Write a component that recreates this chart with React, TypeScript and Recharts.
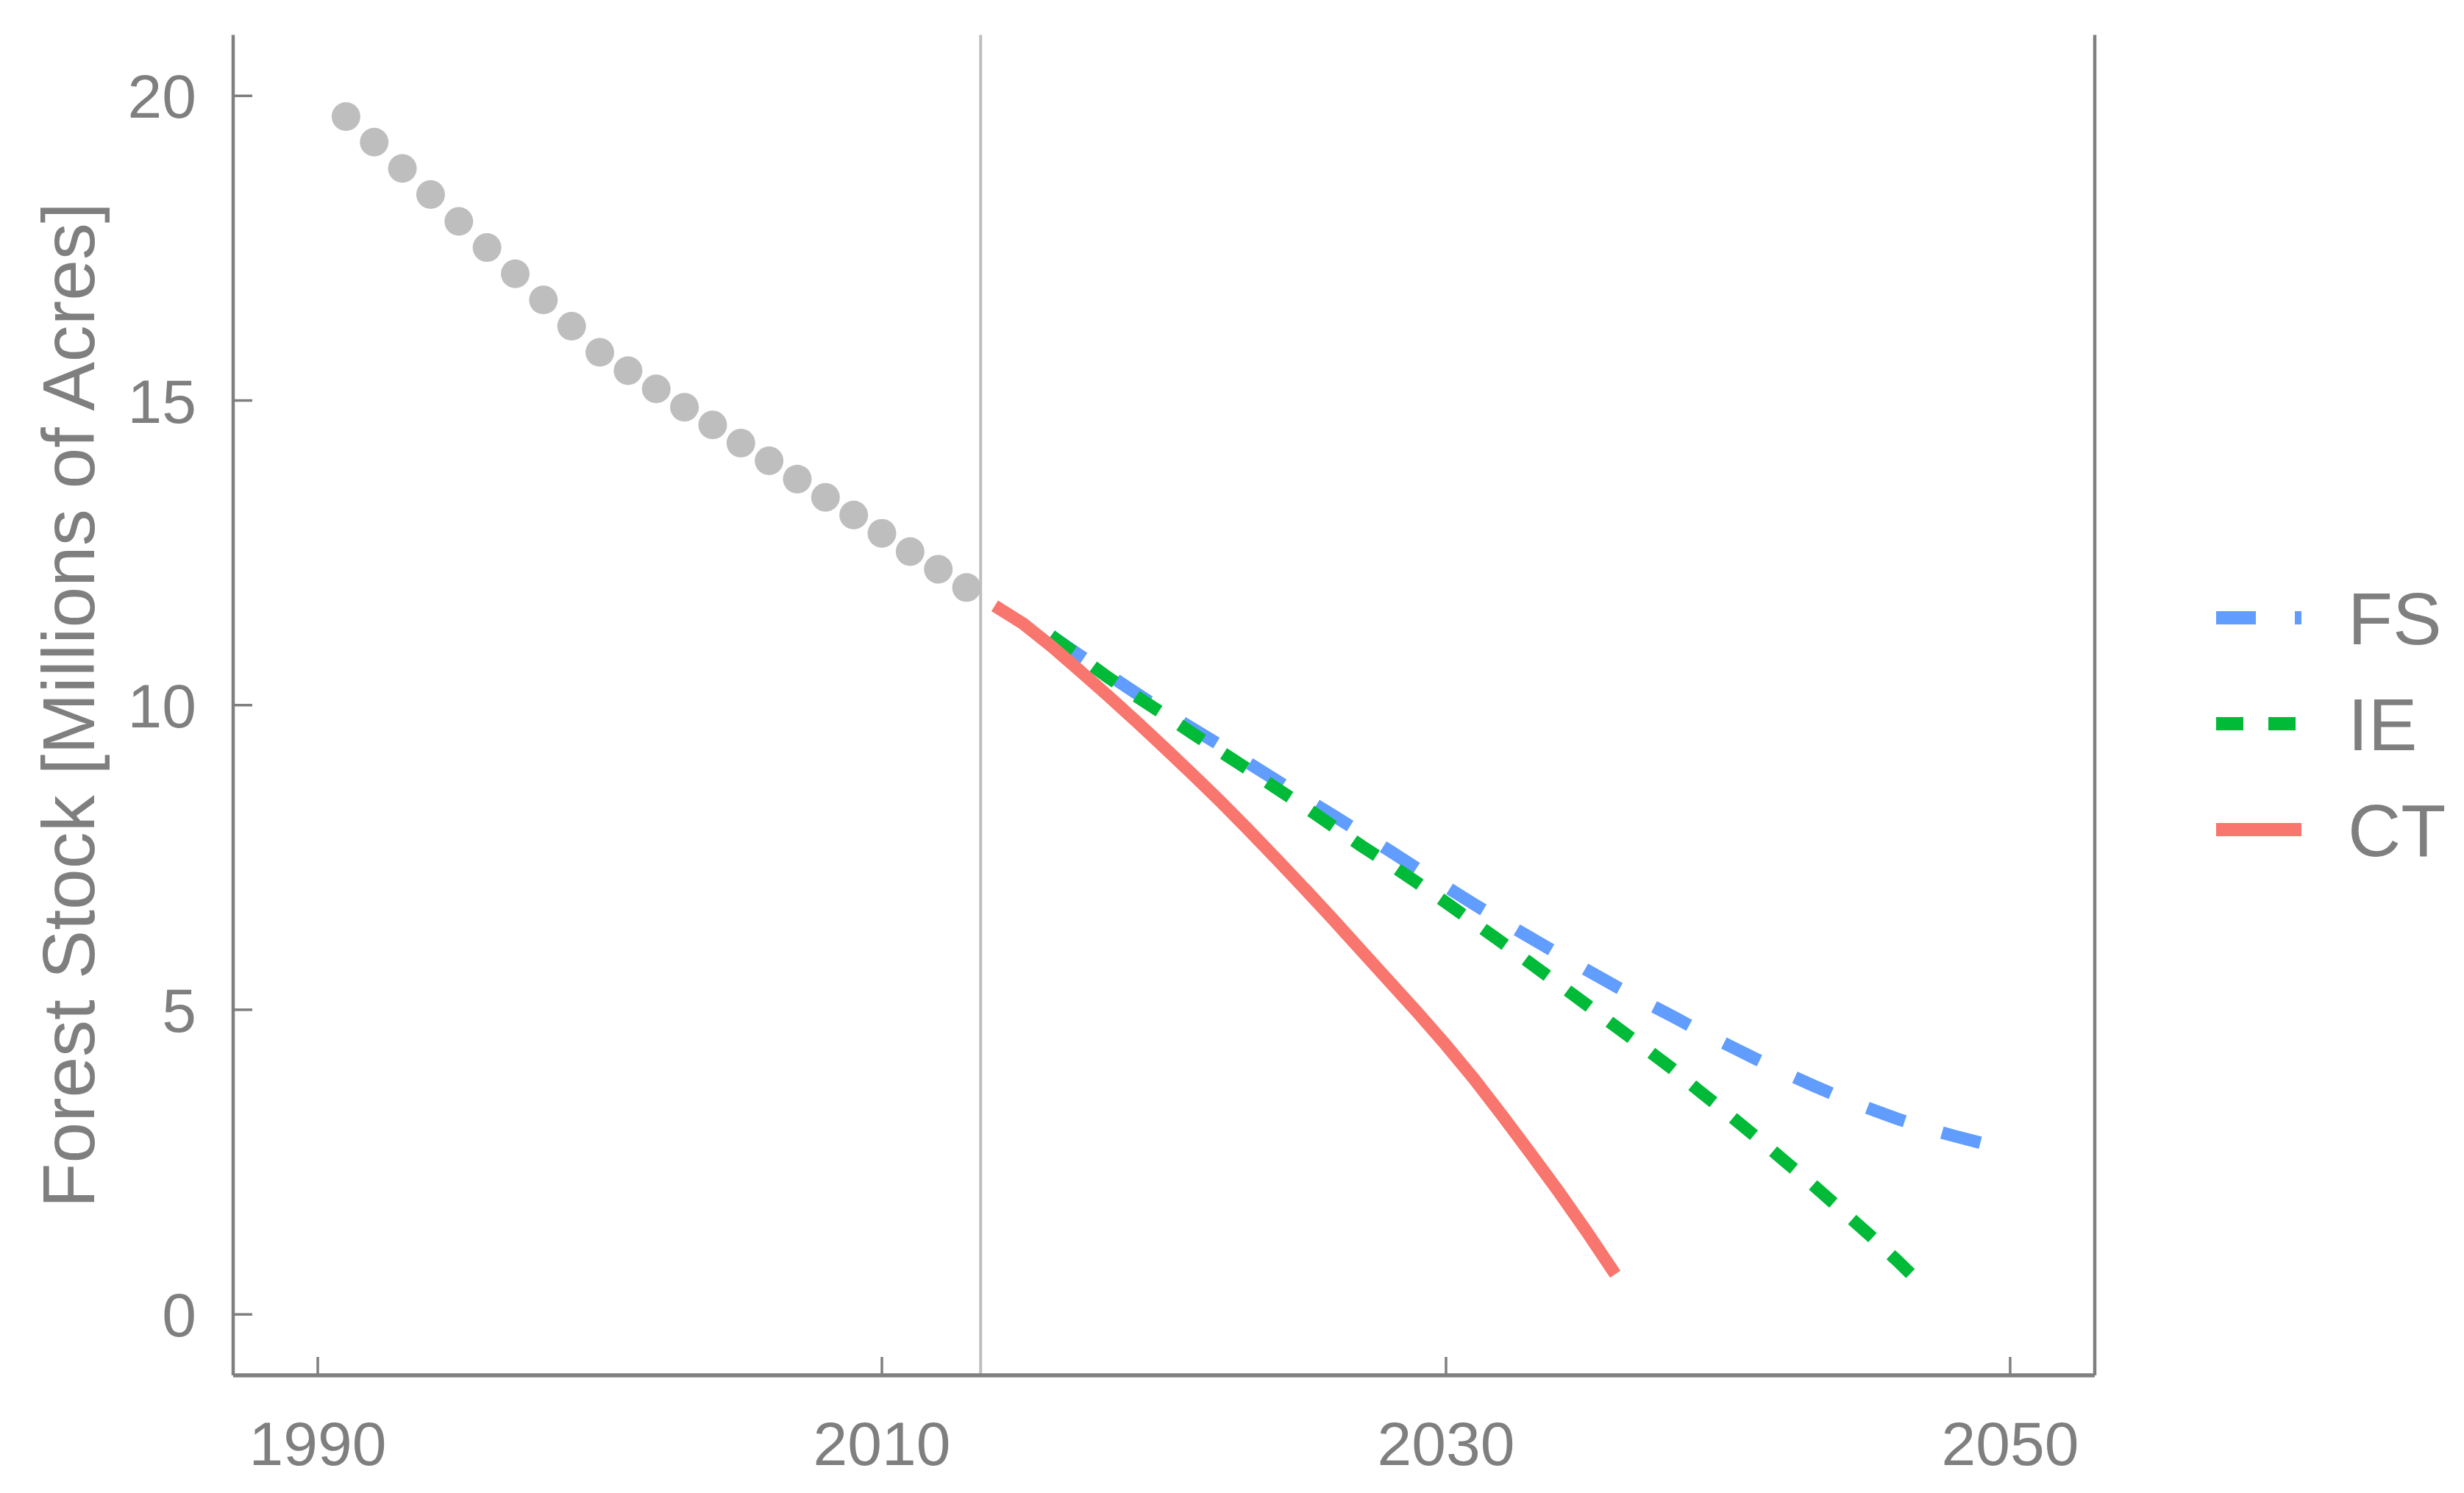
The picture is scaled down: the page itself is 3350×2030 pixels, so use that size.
import React from "react";
import {
  ComposedChart,
  Line,
  Scatter,
  XAxis,
  YAxis,
  ReferenceLine,
} from "recharts";

// Observed forest stock (grey dots), millions of acres
const HIST_YEARS = [
  1991, 1992, 1993, 1994, 1995, 1996, 1997, 1998, 1999, 2000, 2001, 2002,
  2003, 2004, 2005, 2006, 2007, 2008, 2009, 2010, 2011, 2012, 2013,
];
const HIST_VALUES = [
  19.66, 19.24, 18.81, 18.38, 17.94, 17.51, 17.08, 16.65, 16.22, 15.79, 15.49,
  15.19, 14.89, 14.6, 14.3, 14.01, 13.71, 13.41, 13.12, 12.82, 12.52, 12.23,
  11.93,
];

// Projections
const FS_YEARS = [
  2016, 2017, 2018, 2019, 2020, 2021, 2022, 2023, 2024, 2025, 2026, 2027, 2028,
  2029, 2030, 2031, 2032, 2033, 2034, 2035, 2036, 2037, 2038, 2039, 2040, 2041,
  2042, 2043, 2044, 2045, 2046, 2047, 2048, 2049, 2050,
];
const FS_VALUES = [
  11.14, 10.82, 10.51, 10.2, 9.9, 9.62, 9.34, 9.05, 8.76, 8.47, 8.19, 7.9,
  7.61, 7.31, 7.02, 6.73, 6.45, 6.18, 5.91, 5.65, 5.39, 5.14, 4.9, 4.65, 4.42,
  4.19, 3.97, 3.76, 3.56, 3.38, 3.21, 3.06, 2.93, 2.81, 2.7,
];

const IE_YEARS = [
  2016, 2017, 2018, 2019, 2020, 2021, 2022, 2023, 2024, 2025, 2026, 2027, 2028,
  2029, 2030, 2031, 2032, 2033, 2034, 2035, 2036, 2037, 2038, 2039, 2040, 2041,
  2042, 2043, 2044, 2045, 2046, 2047,
];
const IE_VALUES = [
  11.14, 10.8, 10.46, 10.15, 9.85, 9.54, 9.24, 8.94, 8.63, 8.33, 8.01, 7.69,
  7.39, 7.08, 6.76, 6.43, 6.1, 5.76, 5.42, 5.08, 4.73, 4.39, 4.04, 3.66, 3.29,
  2.91, 2.52, 2.13, 1.72, 1.31, 0.88, 0.43,
];

const CT_YEARS = [
  2014, 2015, 2016, 2017, 2018, 2019, 2020, 2021, 2022, 2023, 2024, 2025, 2026,
  2027, 2028, 2029, 2030, 2031, 2032, 2033, 2034, 2035, 2036,
];
const CT_VALUES = [
  11.63, 11.34, 10.97, 10.57, 10.16, 9.74, 9.31, 8.87, 8.42, 7.95, 7.47, 6.98,
  6.48, 5.97, 5.46, 4.95, 4.42, 3.86, 3.26, 2.64, 2.01, 1.35, 0.66,
];

const X_TICKS = [1990, 2010, 2030, 2050];
const Y_TICKS = [0, 5, 10, 15, 20];
const SPLIT_YEAR = 2013.5;

const SERIES = [
  { name: "FS", color: "#619CFF", dash: "54 53", years: FS_YEARS, values: FS_VALUES },
  { name: "IE", color: "#00BA38", dash: "37 34", years: IE_YEARS, values: IE_VALUES },
  { name: "CT", color: "#F8766D", dash: undefined, years: CT_YEARS, values: CT_VALUES },
];

const GREY = "#7f7f7f";
const FONT = "'Liberation Sans', Arial, Helvetica, sans-serif";
const W = 3350;
const H = 2030;

const toRows = (years: number[], values: number[]) =>
  years.map((year, i) => ({ year, v: values[i] }));

const histRows = toRows(HIST_YEARS, HIST_VALUES);

function YTick(props: any) {
  const { x, y, payload } = props;
  return (
    <g>
      <line x1={x} x2={x + 26} y1={y} y2={y} stroke={GREY} strokeWidth={3.5} />
      <text
        x={x - 50}
        y={y + 30}
        textAnchor="end"
        fill={GREY}
        fontSize={84}
        fontFamily={FONT}
      >
        {payload.value}
      </text>
    </g>
  );
}

function XTick(props: any) {
  const { x, y, payload } = props;
  return (
    <g>
      <line x1={x} x2={x} y1={y} y2={y - 25} stroke={GREY} strokeWidth={3.5} />
      <text
        x={x}
        y={y + 122}
        textAnchor="middle"
        fill={GREY}
        fontSize={84}
        fontFamily={FONT}
      >
        {payload.value}
      </text>
    </g>
  );
}

function YTitle() {
  return (
    <text
      x={128}
      y={959}
      transform="rotate(-90, 128, 959)"
      textAnchor="middle"
      fill={GREY}
      fontSize={100}
      fontFamily={FONT}
    >
      Forest Stock [Millions of Acres]
    </text>
  );
}

function LegendBox() {
  return (
    <svg
      width={W}
      height={H}
      style={{ position: "absolute", left: 0, top: 0, pointerEvents: "none" }}
    >
      {SERIES.map((s, i) => {
        const cy = 840 + i * 144;
        return (
          <g key={s.name}>
            <line
              x1={3013}
              x2={3129}
              y1={cy}
              y2={cy}
              stroke={s.color}
              strokeWidth={18}
              strokeDasharray={s.dash}
            />
            <text
              x={3192}
              y={cy + 36}
              fill={GREY}
              fontSize={100}
              fontFamily={FONT}
            >
              {s.name}
            </text>
          </g>
        );
      })}
    </svg>
  );
}

export default function App() {
  return (
    <div
      style={{
        position: "absolute",
        left: 0,
        top: 0,
        width: W,
        height: H,
        background: "#ffffff",
      }}
    >
      <ComposedChart
        width={W}
        height={H}
        margin={{ top: 47.5, right: 0, bottom: 0, left: 0 }}
      >
        <XAxis
          dataKey="year"
          type="number"
          domain={[1987, 2053]}
          ticks={X_TICKS}
          height={160}
          tickSize={0}
          tickMargin={0}
          tickLine={false}
          tick={<XTick />}
          axisLine={{ stroke: GREY, strokeWidth: 5.5 }}
        />
        <XAxis
          xAxisId="top"
          orientation="top"
          type="number"
          domain={[1987, 2053]}
          height={0}
          tick={false}
          tickLine={false}
          axisLine={{ stroke: GREY, strokeWidth: 4.5 }}
        />
        <YAxis
          type="number"
          domain={[-1, 21]}
          ticks={Y_TICKS}
          width={317}
          tickSize={0}
          tickMargin={0}
          tickLine={false}
          tick={<YTick />}
          axisLine={{ stroke: GREY, strokeWidth: 4.5 }}
          label={<YTitle />}
        />
        <YAxis
          yAxisId="right"
          orientation="right"
          type="number"
          domain={[-1, 21]}
          width={502}
          tick={false}
          tickLine={false}
          axisLine={{ stroke: GREY, strokeWidth: 4.5 }}
        />
        <ReferenceLine x={SPLIT_YEAR} stroke="#bebebe" strokeWidth={4} />
        <Scatter
          data={histRows}
          dataKey="v"
          isAnimationActive={false}
          shape={(p: any) => (
            <circle cx={p.cx} cy={p.cy} r={19.5} fill="#bebebe" />
          )}
        />
        {SERIES.map((s) => (
          <Line
            key={s.name}
            name={s.name}
            data={toRows(s.years, s.values)}
            dataKey="v"
            type="linear"
            stroke={s.color}
            strokeWidth={17}
            strokeDasharray={s.dash}
            strokeLinecap="butt"
            dot={false}
            activeDot={false}
            isAnimationActive={false}
          />
        ))}
      </ComposedChart>
      <LegendBox />
    </div>
  );
}
